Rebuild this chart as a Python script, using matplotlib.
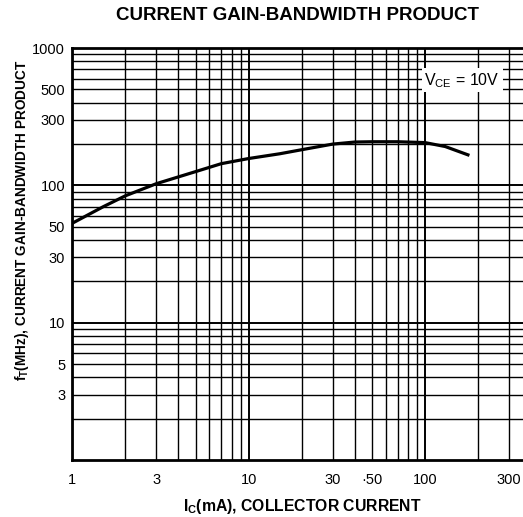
import matplotlib
matplotlib.use("Agg")
import matplotlib.pyplot as plt
from matplotlib.ticker import FixedLocator, NullFormatter, FixedFormatter

plt.rcParams['font.family'] = ['Liberation Sans', 'DejaVu Sans']

# collector current (mA) vs f_T (MHz)
ic_ma = [1, 1.5, 2, 3, 5, 7, 10, 15, 20, 30, 40, 50, 70, 100, 130, 175]
ft_mhz = [53, 70, 84, 103, 126, 144, 157, 170, 182, 200, 207, 208, 208, 205, 192, 167]

x_ticks = [1, 3, 10, 30, 50, 100, 300]
x_labels = ["1", "3", "10", "30", "\u00b750", "100", "300"]
y_ticks = [3, 5, 10, 30, 50, 100, 300, 500, 1000]
y_labels = ["3", "5", "10", "30", "50", "100", "300", "500", "1000"]

fig = plt.figure(figsize=(5.23, 5.17), dpi=100)
ax = fig.add_axes([0.138, 0.11, 0.862, 0.797])

ax.set_xscale("log")
ax.set_yscale("log")
ax.set_xlim(1, 359)
ax.set_ylim(1, 1000)

# log paper grid
minor_x = [m * d for d in (1, 10, 100) for m in range(2, 10)]
minor_y = [m * d for d in (1, 10, 100) for m in range(2, 10)]
ax.xaxis.set_major_locator(FixedLocator(x_ticks))
ax.xaxis.set_major_formatter(FixedFormatter(x_labels))
ax.xaxis.set_minor_locator(FixedLocator(minor_x))
ax.xaxis.set_minor_formatter(NullFormatter())
ax.yaxis.set_major_locator(FixedLocator(y_ticks))
ax.yaxis.set_major_formatter(FixedFormatter(y_labels))
ax.yaxis.set_minor_locator(FixedLocator(minor_y))
ax.yaxis.set_minor_formatter(NullFormatter())

for v in [1, 2, 3, 4, 5, 6, 7, 8, 9, 10, 20, 30, 40, 50, 60, 70, 80, 90, 100, 200, 300]:
    ax.axvline(v, color="black", lw=1.4 if v in (10, 100) else 1.0, zorder=1)
for v in [2, 3, 4, 5, 6, 7, 8, 9, 10, 20, 30, 40, 50, 60, 70, 80, 90, 100,
          200, 300, 400, 500, 600, 700, 800, 900]:
    ax.axhline(v, color="black", lw=1.4 if v in (10, 100) else 1.0, zorder=1)

ax.tick_params(which="both", length=0)
ax.tick_params(axis="x", pad=9, labelsize=10.5)
ax.tick_params(axis="y", pad=5, labelsize=10.5)

for s in ("left", "bottom", "top"):
    ax.spines[s].set_linewidth(2)
ax.spines["right"].set_visible(False)

ax.plot(ic_ma, ft_mhz, color="black", lw=2.3, zorder=3)

ax.text(0.865, 0.922, r"V$_\mathregular{CE}$ = 10V", transform=ax.transAxes,
        fontsize=11.5, ha="center", va="center", zorder=4,
        bbox=dict(facecolor="white", edgecolor="none", pad=2))

fig.text(0.568, 0.97, "CURRENT GAIN-BANDWIDTH PRODUCT", ha="center",
         va="center", fontsize=13.5, fontweight="bold")
fig.text(0.578, 0.02, r"I$_\mathregular{C}$(mA), COLLECTOR CURRENT",
         ha="center", va="center", fontsize=11.3, fontweight="bold")
fig.text(0.042, 0.574, r"f$_\mathregular{T}$(MHz), CURRENT GAIN-BANDWIDTH PRODUCT",
         ha="center", va="center", rotation=90, fontsize=9.8, fontweight="bold")

fig.savefig("out.png", dpi=100)
